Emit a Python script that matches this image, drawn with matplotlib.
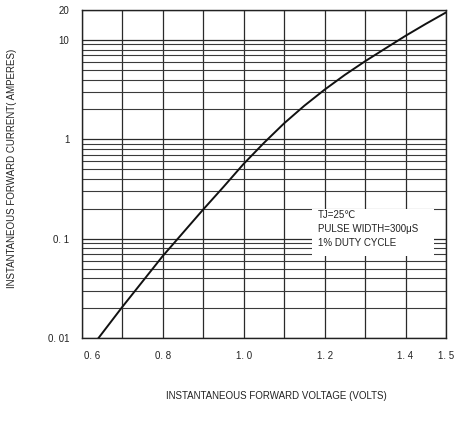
import numpy as np
import matplotlib
matplotlib.use("Agg")
import matplotlib.pyplot as plt
import matplotlib.transforms as mtransforms
from matplotlib.ticker import FixedLocator, NullFormatter
from matplotlib.patches import Rectangle

plt.rcParams['font.family'] = ['Liberation Sans', 'DejaVu Sans']

# forward characteristic
voltage = [0.641, 0.7, 0.8, 0.9, 0.95, 1.0, 1.05, 1.1, 1.15, 1.2, 1.25, 1.3, 1.35, 1.4, 1.45, 1.5]
current = [0.01, 0.0206, 0.067, 0.197, 0.332, 0.567, 0.92, 1.45, 2.18, 3.16, 4.45, 6.1, 8.2, 11.0, 14.5, 18.9]

x_grid = [0.6, 0.7, 0.8, 0.9, 1.0, 1.1, 1.2, 1.3, 1.4, 1.5]
x_labels = ["0. 6", "", "0. 8", "", "1. 0", "", "1. 2", "", "1. 4", "1. 5"]
y_major = [0.01, 0.1, 1, 10, 20]
y_labels = ["0. 01", "0. 1", "1", "10", "20"]
y_minor = [m * d for d in (0.01, 0.1, 1) for m in range(2, 10)]

note = "TJ=25\u2103\nPULSE WIDTH=300\u03bcS\n1% DUTY CYCLE"

fig = plt.figure(figsize=(4.61, 4.29), dpi=100)
ax = fig.add_axes([81.7 / 461, 1 - 338.3 / 429, 364.3 / 461, 328.3 / 429])

ax.set_yscale('log')
ax.set_xlim(0.6, 1.5)
ax.set_ylim(0.01, 20)

ax.xaxis.set_major_locator(FixedLocator(x_grid))
ax.set_xticklabels(x_labels)
ax.yaxis.set_major_locator(FixedLocator(y_major))
ax.set_yticklabels(y_labels)
ax.yaxis.set_minor_locator(FixedLocator(y_minor))
ax.yaxis.set_minor_formatter(NullFormatter())

ax.tick_params(which='both', length=0, labelsize=7, colors='#222222')
ax.tick_params(axis='x', pad=9)
ax.tick_params(axis='y', pad=9)

ax.grid(True, which='major', color='#2a2a2a', lw=0.9)
ax.grid(True, which='minor', axis='y', color='#3a3a3a', lw=0.8)
for s in ax.spines.values():
    s.set_color('#222222')
    s.set_linewidth(1.0)

# first x label sits a little right of the axis corner
lbl = ax.get_xticklabels()[0]
lbl.set_transform(lbl.get_transform() + mtransforms.ScaledTranslation(10 / 100, 0, fig.dpi_scale_trans))

ax.plot(voltage, current, color='#111111', lw=1.4, zorder=4)

ax.add_patch(Rectangle((0.632, 0.251), 0.335, 0.143, transform=ax.transAxes,
                       facecolor='white', edgecolor='none', zorder=3))
ax.text(0.649, 0.392, note, transform=ax.transAxes, fontsize=7, va='top', ha='left',
        linespacing=1.55, color='#222222', zorder=5)

fig.text(12 / 461, 1 - 168 / 429, "INSTANTANEOUS FORWARD CURRENT( AMPERES)", rotation=90,
         ha='center', va='center', fontsize=7, color='#222222')
fig.text(276 / 461, 1 - 396 / 429, "INSTANTANEOUS FORWARD VOLTAGE (VOLTS)",
         ha='center', va='center', fontsize=7, color='#222222')

fig.savefig("out.png", dpi=100)
